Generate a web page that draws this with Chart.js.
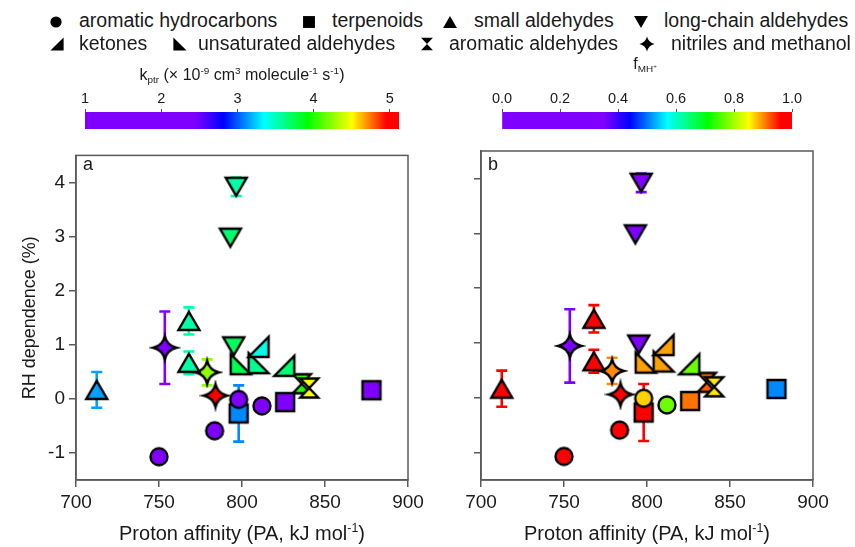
<!DOCTYPE html>
<html><head><meta charset="utf-8">
<script src="https://cdn.jsdelivr.net/npm/chart.js@4.4.1/dist/chart.umd.min.js"></script>
<style>
body{margin:0;background:#fff;}
#root{position:relative;width:855px;height:547px;overflow:hidden;font-family:"Liberation Sans",Arial,Helvetica,sans-serif;color:#1a1a1a;background:#fff;}
#root canvas{position:absolute;}
.lg{position:absolute;font-size:19.5px;line-height:19.5px;white-space:nowrap;}
.t{position:absolute;white-space:nowrap;text-align:center;}
sup{font-size:0.62em;position:relative;top:-0.6em;vertical-align:baseline;line-height:0;}
sub{font-size:0.62em;position:relative;top:0.32em;vertical-align:baseline;line-height:0;}
</style></head>
<body><div id="root"></div>
<script>
// ---------------- data ----------------
const groupNames = ['aromatic hydrocarbons','terpenoids','small aldehydes','long-chain aldehydes','ketones','unsaturated aldehydes','aromatic aldehydes','nitriles and methanol'];
const compoundGroup  = [0,0,0,0, 1,1,1, 2,2,2, 3,3,3, 4,4, 5,5, 6,6, 7,7,7];
const protonAffinity = [750,783.5,798,812, 798,826,878, 712.5,768,768, 796.5,793,795, 810,825.5, 799.2,810, 836,840.5, 753.5,779,784];
const rhDependence   = [-1.07,-0.59,-0.01,-0.13, -0.27,-0.06,0.16, 0.165,1.44,0.665, 3.92,2.98,0.97, 0.96,0.61, 0.64,0.66, 0.28,0.20, 0.945,0.49,0.06];
const rhError        = [0,0,0,0, 0.52,0,0, 0.33,0.25,0.21, 0.17,0,0, 0,0, 0,0, 0,0, 0.67,0.24,0];
const kptr           = [2.0,2.1,2.2,2.0, 3.1,2.3,2.4, 3.15,3.55,3.55, 3.55,3.68,3.72, 3.4,3.66, 3.75,3.6, 4.0,4.5, 2.3,4.25,5.0];
const fMH            = [0.98,0.96,0.87,0.77, 0.99,0.91,0.51, 0.98,0.98,0.98, 0.20,0.20,0.20, 0.89,0.77, 0.89,0.89, 0.92,0.86, 0.10,0.90,0.97];
const paTicks   = [700,750,800,850,900];
const rhTicks   = [-1,0,1,2,3,4];
const kptrTicks = [1,2,3,4,5];
const fTicks    = [0,0.2,0.4,0.6,0.8,1.0];
const kptrRange = [1,5.12];
const fRange    = [0,1];

// ---------------- styles ----------------
const FONT = '"Liberation Sans", Arial, Helvetica, sans-serif';
Chart.defaults.font.family = FONT;
Chart.defaults.color = '#1a1a1a';
const AXC = '#5a5a5a';
const groupShapes = ['circle','square','triUp','triDown','ketone','unsat','hourglass','star4'];
const cmapStops = [[0,[128,0,255]],[0.35,[128,0,255]],[0.44,[0,0,255]],[0.57,[0,255,255]],[0.71,[0,255,0]],[0.85,[255,255,0]],[0.96,[255,0,0]],[1,[255,0,0]]];

function cmap(t){
  t = Math.max(0, Math.min(1, t));
  for (let i = 1; i < cmapStops.length; i++){
    const [t0,c0] = cmapStops[i-1], [t1,c1] = cmapStops[i];
    if (t <= t1){
      const f = t1 === t0 ? 0 : (t - t0)/(t1 - t0);
      return 'rgb(' + c0.map((v,k)=>Math.round(v + (c1[k]-v)*f)).join(',') + ')';
    }
  }
  return 'rgb(255,0,0)';
}
function shapePath(g, shape){
  switch(shape){
    case 'circle': g.arc(0,0,8.5,0,Math.PI*2); break;
    case 'square': g.rect(-9,-9,18,18); break;
    case 'triUp': g.moveTo(0,-9); g.lineTo(10.5,9); g.lineTo(-10.5,9); g.closePath(); break;
    case 'triDown': g.moveTo(0,9); g.lineTo(10.5,-9); g.lineTo(-10.5,-9); g.closePath(); break;
    case 'ketone': g.moveTo(10,-10); g.lineTo(10,10); g.lineTo(-10,10); g.closePath(); break;
    case 'unsat': g.moveTo(-10,-10); g.lineTo(-10,10); g.lineTo(10,10); g.closePath(); break;
    case 'hourglass': g.moveTo(-9,-9.5); g.lineTo(9,-9.5); g.lineTo(-9,9.5); g.lineTo(9,9.5); g.closePath(); break;
    case 'star4': { const r = 11.5, c = 2.2;
      g.moveTo(0,-r); g.quadraticCurveTo(c,-c,r,0); g.quadraticCurveTo(c,c,0,r);
      g.quadraticCurveTo(-c,c,-r,0); g.quadraticCurveTo(-c,-c,0,-r); g.closePath(); break; }
  }
}
const markerCache = {};
function marker(shape, fill, scale, lw){
  const key = shape + '|' + fill + '|' + scale + '|' + lw;
  if (markerCache[key]) return markerCache[key];
  const S = 32, c = document.createElement('canvas');
  c.width = S; c.height = S;
  const g = c.getContext('2d');
  g.translate(S/2, S/2); g.scale(scale, scale);
  g.beginPath(); shapePath(g, shape);
  g.fillStyle = fill; g.fill();
  if (lw > 0){ g.lineWidth = lw; g.lineJoin = 'miter'; g.miterLimit = 10; g.strokeStyle = '#000'; g.stroke(); }
  markerCache[key] = c;
  return c;
}

const root = document.getElementById('root');
function addCanvas(left, top, w, h){
  const c = document.createElement('canvas');
  c.width = w; c.height = h;
  c.style.left = left + 'px'; c.style.top = top + 'px';
  c.style.width = w + 'px'; c.style.height = h + 'px';
  root.appendChild(c);
  return c;
}
function addText(html, cls, css){
  const d = document.createElement('div');
  d.className = cls; d.innerHTML = html;
  Object.assign(d.style, css);
  root.appendChild(d);
  return d;
}

// ---------------- legend ----------------
const legendPos = [[56,21.5,79,11],[309,21.5,332,11],[450,21.5,474,11],[641,21.5,664,11],
                   [57,43.5,79,33.5],[180,43.5,198,33.5],[427,43.5,449,33.5],[647,43.5,671,33.5]];
groupNames.forEach((name, g) => {
  const [mx, my, tx, ty] = legendPos[g];
  const c = marker(groupShapes[g], '#000', 0.66, 0);
  const cv = addCanvas(mx - 16, my - 16, 32, 32);
  cv.getContext('2d').drawImage(c, 0, 0);
  addText(name, 'lg', {left: tx + 'px', top: ty + 'px'});
});

// ---------------- colorbars ----------------
function colorbar(left, width, barLeft, barRight, range, ticks, fmt){
  const H = 140;
  const cv = addCanvas(left, 0, width, H);
  new Chart(cv, {
    type: 'bar',
    data: { labels: [''], datasets: [{
      data: [range],
      backgroundColor: (ctx) => {
        const ca = ctx.chart.chartArea;
        if (!ca) return 'transparent';
        const gr = ctx.chart.ctx.createLinearGradient(ca.left, 0, ca.right, 0);
        cmapStops.forEach(([t, c]) => gr.addColorStop(t, 'rgb(' + c.join(',') + ')'));
        return gr;
      },
      borderWidth: 0, barPercentage: 1, categoryPercentage: 1
    }]},
    options: {
      indexAxis: 'y', responsive: false, animation: false, events: [],
      layout: { padding: { left: barLeft - left, right: left + width - barRight, top: 0, bottom: H - 129 } },
      plugins: { legend: { display: false }, tooltip: { enabled: false } },
      scales: {
        x: { type: 'linear', position: 'top', min: range[0], max: range[1],
             afterBuildTicks: s => { s.ticks = ticks.map(v => ({value: v})); },
             afterFit: s => { s.height = 112; },
             ticks: { font: { size: 14.5 }, padding: 1, color: '#1a1a1a', maxRotation: 0, autoSkip: false, callback: fmt },
             grid: { display: true, drawOnChartArea: false, drawTicks: true, tickLength: 3, color: '#555', lineWidth: 1 },
             border: { display: false } },
        y: { display: false }
      }
    }
  });
}
colorbar(0, 430, 85, 399, kptrRange, kptrTicks, v => String(v));
colorbar(430, 425, 502, 792, fRange, fTicks, v => Number(v).toFixed(1));
addText('k<sub>ptr</sub> (× 10<sup>-9</sup> cm<sup>3</sup> molecule<sup>-1</sup> s<sup>-1</sup>)', 't',
        {left: (242 - 200) + 'px', width: '400px', top: '66.5px', fontSize: '16px', lineHeight: '16px'});
addText('f<sub>MH<sup>+</sup></sub>', 't',
        {left: (645 - 100) + 'px', width: '200px', top: '55.5px', fontSize: '16px', lineHeight: '16px'});

// ---------------- panels ----------------
function panel(left, width, rightEdge, colorValues, range, showYLabels, label){
  const top = 140, H = 407;
  const cv = addCanvas(left, top, width, H);
  const colorOf = i => cmap((colorValues[i] - range[0]) / (range[1] - range[0]));
  const datasets = groupNames.map((name, g) => {
    const idx = compoundGroup.map((gg, i) => gg === g ? i : -1).filter(i => i >= 0);
    return {
      label: name,
      data: idx.map(i => ({x: protonAffinity[i], y: rhDependence[i], i: i})),
      pointStyle: ctx => marker(groupShapes[g], colorOf(ctx.raw ? ctx.raw.i : idx[0]), 1, 2.4),
      pointRadius: 10, showLine: false
    };
  });
  const errorBars = {
    id: 'errorBars',
    beforeDatasetsDraw(chart){
      const c = chart.ctx, xs = chart.scales.x, ys = chart.scales.y;
      c.save();
      rhError.forEach((e, i) => {
        if (!(e > 0)) return;
        const x = xs.getPixelForValue(protonAffinity[i]);
        const y1 = ys.getPixelForValue(rhDependence[i] + e);
        const y2 = ys.getPixelForValue(rhDependence[i] - e);
        c.strokeStyle = colorOf(i); c.lineWidth = 2.6; c.lineCap = 'butt';
        c.beginPath();
        c.moveTo(x, y1); c.lineTo(x, y2);
        c.moveTo(x - 5.5, y1); c.lineTo(x + 5.5, y1);
        c.moveTo(x - 5.5, y2); c.lineTo(x + 5.5, y2);
        c.stroke();
      });
      c.restore();
    }
  };
  const frame = {
    id: 'frame',
    afterDraw(chart){
      const c = chart.ctx, a = chart.chartArea;
      c.save(); c.strokeStyle = AXC; c.lineWidth = 1.5;
      c.strokeRect(a.left, a.top, a.right - a.left, a.bottom - a.top);
      c.restore();
    }
  };
  new Chart(cv, {
    type: 'scatter',
    data: { datasets },
    plugins: [errorBars, frame],
    options: {
      responsive: false, animation: false, events: [],
      layout: { padding: { left: 0, right: left + width - rightEdge, top: 8, bottom: 0 } },
      plugins: { legend: { display: false }, tooltip: { enabled: false } },
      scales: {
        x: { type: 'linear', min: 700, max: 900,
             afterBuildTicks: s => { s.ticks = paTicks.map(v => ({value: v})); },
             afterFit: s => { s.height = 67; },
             ticks: { font: { size: 19 }, padding: 4, color: '#1a1a1a', maxRotation: 0, autoSkip: false },
             grid: { display: true, drawOnChartArea: false, drawTicks: true, tickLength: 7, color: AXC, lineWidth: 1.5 },
             border: { display: true, color: AXC, width: 1.5 } },
        y: { type: 'linear', min: -1.5, max: 4.5,
             afterBuildTicks: s => { s.ticks = rhTicks.map(v => ({value: v})); },
             afterFit: s => { s.width = 76; },
             ticks: { display: showYLabels, font: { size: 19 }, padding: 4, color: '#1a1a1a' },
             title: { display: showYLabels, text: 'RH dependence (%)', font: { size: 18 }, padding: { top: 19, bottom: 0 }, color: '#1a1a1a' },
             grid: { display: true, drawOnChartArea: false, drawTicks: true, tickLength: 7, color: AXC, lineWidth: 1.5 },
             border: { display: true, color: AXC, width: 1.5 } }
      }
    }
  });
  const areaLeft = left + 76;
  addText(label, 't', {left: (areaLeft + 7) + 'px', top: '155px', fontSize: '18px', lineHeight: '18px', textAlign: 'left'});
  const cx = (areaLeft + rightEdge) / 2;
  addText('Proton affinity (PA, kJ mol<sup>-1</sup>)', 't',
          {left: (cx - 200) + 'px', width: '400px', top: '522.5px', fontSize: '20px', lineHeight: '20px'});
}
panel(0, 430, 408, kptr, kptrRange, true, 'a');
panel(405, 450, 813, fMH, fRange, false, 'b');
</script>
</body></html>
